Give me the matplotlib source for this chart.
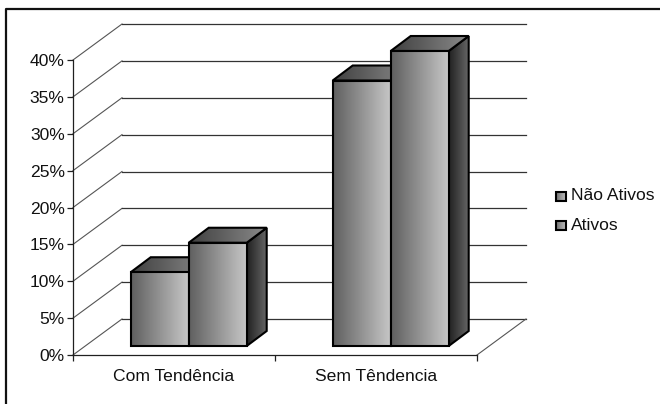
import numpy as np
import matplotlib
matplotlib.use("Agg")
import matplotlib.pyplot as plt
from matplotlib.patches import Polygon

plt.rcParams['font.family'] = ['Liberation Sans', 'DejaVu Sans']

categories = ["Com Tendência", "Sem Têndencia"]
series_names = ["Não Ativos", "Ativos"]
nao_ativos = [10, 36]
ativos = [14, 40]
y_ticks = [0, 5, 10, 15, 20, 25, 30, 35, 40]

# scale of the front plane, in pixels
W, H = 660, 404
x0_px, x1_px = 73, 477
y0_px, y40_px = 355, 60
sx = (x1_px - x0_px) / 2
sy = (y0_px - y40_px) / 40
FS = 12.6


def dx(px):
    return px / sx


def dy(px):
    return px / sy


draw_order = [3]


def shaded(ax, poly, c0, c1):
    # horizontal grey ramp clipped to a polygon, each face stacked over the last
    xs = [p[0] for p in poly]
    ys = [p[1] for p in poly]
    ramp = np.linspace(0, 1, 64).reshape(1, -1)
    cmap = matplotlib.colors.LinearSegmentedColormap.from_list("g", [c0, c1])
    z = draw_order[0]
    draw_order[0] += 2
    im = ax.imshow(ramp, cmap=cmap, extent=[min(xs), max(xs), min(ys), max(ys)],
                   aspect="auto", zorder=z)
    patch = Polygon(poly, closed=True, fc="none", ec="black", lw=1.5, zorder=z + 1,
                    clip_on=False, joinstyle="miter")
    ax.add_patch(patch)
    im.set_clip_box(fig.bbox)
    im.set_clip_path(patch)


fig = plt.figure(figsize=(W / 100, H / 100), dpi=100, facecolor="white")
ax = fig.add_axes([x0_px / W, 1 - y0_px / H, (x1_px - x0_px) / W, (y0_px - y40_px) / H])
ax.set_xlim(0, 2)
ax.set_ylim(0, 40)
ax.patch.set_visible(False)
for s in ["top", "right"]:
    ax.spines[s].set_visible(False)
for s in ["left", "bottom"]:
    ax.spines[s].set_linewidth(0.9)
    ax.spines[s].set_color("#202020")

ax.set_yticks(y_ticks)
ax.set_yticklabels([f"{t}%" for t in y_ticks], fontsize=FS, color="#111111")
ax.set_xticks([0, 1, 2])
ax.set_xticklabels([])
ax.set_xticks([0.5, 1.5], minor=True)
ax.set_xticklabels(categories, minor=True, fontsize=FS, color="#111111")
ax.tick_params(axis="x", which="minor", length=0, pad=10)
ax.tick_params(axis="both", which="major", length=4, width=0.9, color="#202020", pad=2)

# back wall gridlines, side wall and floor edges
wall_x = dx(49)
wall_y = dy(36)
for t in y_ticks:
    ax.plot([0, wall_x], [t, t + wall_y], color="#555555", lw=0.8, clip_on=False, zorder=1)
    ax.plot([wall_x, 2 + wall_x], [t + wall_y, t + wall_y], color="#333333", lw=0.9,
            clip_on=False, zorder=1)
ax.plot([2, 2 + wall_x], [0, wall_y], color="#555555", lw=0.8, clip_on=False, zorder=1)

# the two series
bar_w = dx(58)
shift_x = dx(14.7)
base = dy(9)
depth_x = dx(20)
depth_y = dy(15)
for i in range(len(categories)):
    center = i + 0.5 + shift_x
    for left, val in [(center - bar_w, nao_ativos[i]), (center, ativos[i])]:
        right = left + bar_w
        top = base + val
        shaded(ax, [(right, base), (right + depth_x, base + depth_y),
                    (right + depth_x, top + depth_y), (right, top)], "#222222", "#666666")
        shaded(ax, [(left, top), (right, top), (right + depth_x, top + depth_y),
                    (left + depth_x, top + depth_y)], "#404040", "#8a8a8a")
        shaded(ax, [(left, base), (right, base), (right, top), (left, top)], "#606060", "#c6c6c6")

# legend, placed by hand so the swatches can carry the ramp
leg_x = 2 + dx(556 - x1_px)
for name, y_px in zip(series_names, [196, 225.5]):
    yv = (y0_px - y_px) / sy
    half = dy(4.5)
    shaded(ax, [(leg_x, yv - half), (leg_x + dx(10), yv - half),
                (leg_x + dx(10), yv + half), (leg_x, yv + half)], "#707070", "#c6c6c6")
    ax.text(leg_x + dx(15), yv, name, fontsize=FS, va="center", ha="left", color="#111111",
            clip_on=False)
ax.set_xlim(0, 2)
ax.set_ylim(0, 40)

# outer frame
fig.add_artist(plt.Line2D([5.5 / W, 5.5 / W, 1], [0, 1 - 9 / H, 1 - 9 / H], color="#111111",
                          lw=1.6, transform=fig.transFigure))

fig.savefig("out.png", dpi=100)
